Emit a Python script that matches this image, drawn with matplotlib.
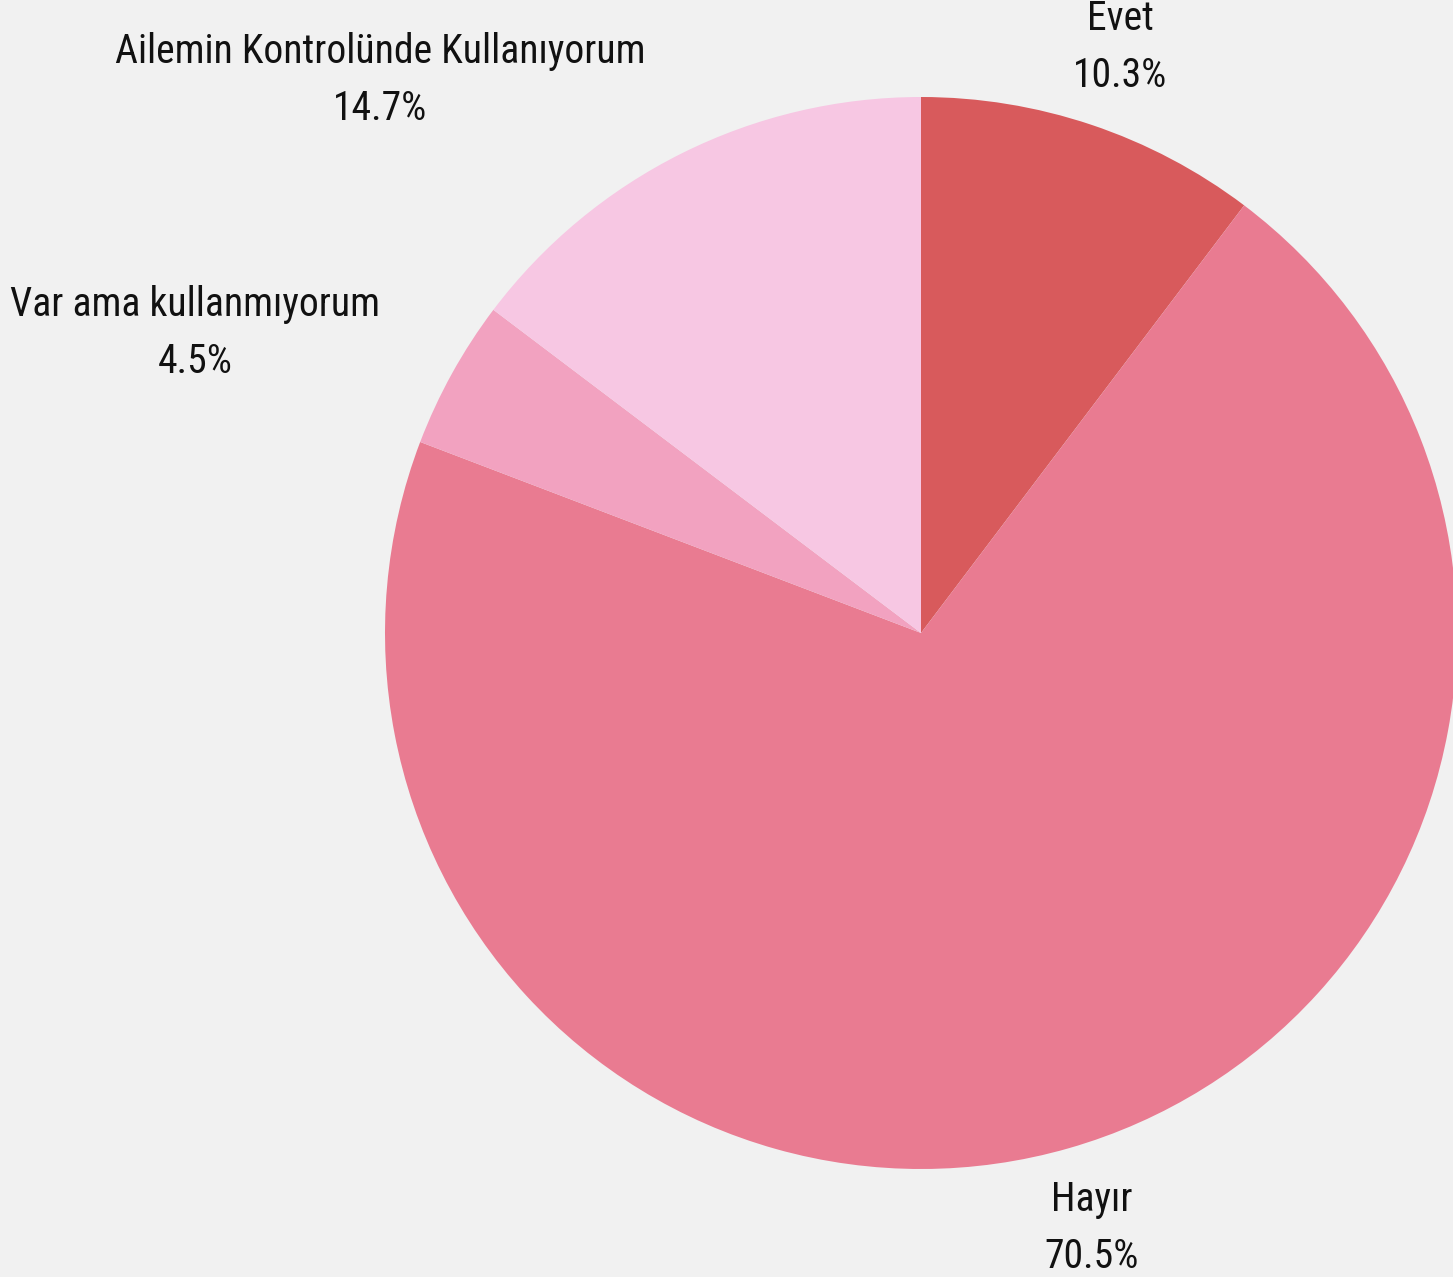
import matplotlib.pyplot as plt
from matplotlib import font_manager

# Datos
labels = ["Evet", "Hayır", "Var ama kullanmıyorum", "Ailemin Kontrolünde Kullanıyorum"]
values = [10.3, 70.5, 4.5, 14.7]
colors = ["#d85a5c", "#e97b91", "#f2a2c0", "#f7c7e3"]

W, H = 1453, 1277
names = {f.name for f in font_manager.fontManager.ttflist}
family = ["Roboto Condensed", "Roboto"] if "Roboto Condensed" in names else ["Roboto"]

fig = plt.figure(figsize=(W / 100, H / 100), dpi=100)
fig.patch.set_facecolor("#f1f1f1")
ax = fig.add_axes([0, 0, 1, 1])
ax.set_facecolor("#f1f1f1")

# Pastel en coordenadas de pixel (y hacia arriba)
cx, cy, r = 921, H - 633, 536
ax.pie(values, colors=colors, startangle=90, counterclock=False,
       center=(cx, cy), radius=r, frame=True,
       wedgeprops=dict(linewidth=0))
ax.set_xlim(0, W)
ax.set_ylim(0, H)
ax.axis("off")

# Posiciones de etiquetas
label_pos = [(1120, H - 47), (1092, H - 1228), (195, H - 333), (380, H - 80)]
for lab, v, (x, y) in zip(labels, values, label_pos):
    ax.text(x, y, f"{lab}\n{v}%", ha="center", va="center", fontsize=28.5,
            family=family, color="#111111", linespacing=1.55,
            stretch="condensed")

fig.savefig("out.png", dpi=100, facecolor=fig.get_facecolor())
